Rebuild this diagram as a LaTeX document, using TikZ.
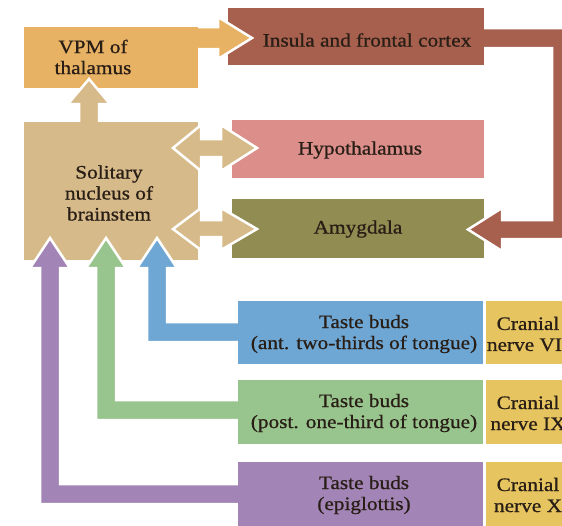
\documentclass[tikz,border=0pt]{standalone}
\usepackage{fontspec}
\setmainfont[FakeStretch=1.12,FakeBold=0.8]{Liberation Serif}
\definecolor{vpmc}{RGB}{232,178,100}
\definecolor{insc}{RGB}{168,96,78}
\definecolor{hypc}{RGB}{219,142,138}
\definecolor{amyc}{RGB}{145,140,82}
\definecolor{solc}{RGB}{214,186,138}
\definecolor{bluc}{RGB}{110,166,212}
\definecolor{grnc}{RGB}{152,196,142}
\definecolor{purc}{RGB}{162,132,182}
\definecolor{yelc}{RGB}{230,196,96}
\definecolor{txt}{RGB}{40,30,22}
\begin{document}
\begin{tikzpicture}[x=1pt,y=-1pt,
  box/.style={draw=none,inner sep=0pt,outer sep=0pt,anchor=north west},
  lbl/.style={font=\fontsize{19}{21}\selectfont,align=center,text=txt,inner sep=0pt},
  arr/.style={draw=white,line width=2.5pt,line join=miter}]
\clip (0,0) rectangle (562,525);
\fill[white] (0,0) rectangle (562,525);
% boxes
\node[box,fill=vpmc,minimum width=174pt,minimum height=61pt] (vpm) at (24,27) {};
\node[box,fill=insc,minimum width=256pt,minimum height=57pt] (ins) at (228,8) {};
\node[box,fill=hypc,minimum width=252pt,minimum height=58pt] (hyp) at (232,120) {};
\node[box,fill=amyc,minimum width=252pt,minimum height=59pt] (amy) at (232,199) {};
\node[box,fill=solc,minimum width=174pt,minimum height=138pt] (sol) at (24,122) {};
\node[box,fill=bluc,minimum width=245pt,minimum height=63pt] (tb1) at (238,301) {};
\node[box,fill=grnc,minimum width=245pt,minimum height=64pt] (tb2) at (238,380) {};
\node[box,fill=purc,minimum width=245pt,minimum height=68pt] (tb3) at (238,462) {};
\node[box,fill=yelc,minimum width=86pt,minimum height=63pt] (cn1) at (486,301) {};
\node[box,fill=yelc,minimum width=86pt,minimum height=64pt] (cn2) at (486,380) {};
\node[box,fill=yelc,minimum width=86pt,minimum height=68pt] (cn3) at (486,462) {};
% Insula -> Amygdala
\fill[insc,arr] (470,28) -- (572,28) -- (572,239) -- (502,239) -- (502,251) -- (468,229.5) -- (502,208) -- (502,220) -- (552,220) -- (552,48) -- (470,48) -- cycle;
\fill[insc] (ins.north west) rectangle (ins.south east);
% VPM -> Insula
\fill[vpmc,arr] (180,27) -- (218,27) -- (218,17) -- (252,38) -- (218,59) -- (218,49) -- (180,49) -- cycle;
\fill[vpmc] (vpm.north west) rectangle (vpm.south east);
% Solitary -> VPM
\fill[solc,arr] (79,135) -- (79,104) -- (68,104) -- (89,79) -- (110,104) -- (99,104) -- (99,135) -- cycle;
\fill[solc] (sol.north west) rectangle (sol.south east);
% taste buds -> solitary
\fill[bluc,arr] (250,322) -- (167,322) -- (167,268) -- (177,268) -- (157,238) -- (137,268) -- (147,268) -- (147,342) -- (250,342) -- cycle;
\fill[bluc] (tb1.north west) rectangle (tb1.south east);
\fill[grnc,arr] (250,400) -- (116,400) -- (116,268) -- (126,268) -- (106,238) -- (86,268) -- (96,268) -- (96,420) -- (250,420) -- cycle;
\fill[grnc] (tb2.north west) rectangle (tb2.south east);
\fill[purc,arr] (250,484) -- (60,484) -- (60,268) -- (70,268) -- (50,238) -- (30,268) -- (40,268) -- (40,504) -- (250,504) -- cycle;
\fill[purc] (tb3.north west) rectangle (tb3.south east);
% double arrows
\fill[solc,arr] (173,148) -- (201,125) -- (201,139) -- (221,139) -- (221,125) -- (257,148) -- (221,171) -- (221,157) -- (201,157) -- (201,171) -- cycle;
\fill[solc,arr] (173,229) -- (201,208) -- (201,220) -- (221,220) -- (221,208) -- (257,229) -- (221,250) -- (221,237) -- (201,237) -- (201,250) -- cycle;
% labels
\node[lbl] (tvpm) at (93,57) {VPM of\\thalamus};
\node[lbl] (tins) at (367,40) {Insula and frontal cortex};
\node[lbl] (thyp) at (360,150) {Hypothalamus};
\node[lbl] (tamy) at (358,229) {Amygdala};
\node[lbl] (tsol) at (109,193) {Solitary\\nucleus of\\brainstem};
\node[lbl] (ttb1) at (364,334) {Taste buds\\(ant. two-thirds of tongue)};
\node[lbl] (ttb2) at (364,413) {Taste buds\\(post. one-third of tongue)};
\node[lbl] (ttb3) at (364,495) {Taste buds\\(epiglottis)};
\node[lbl] (tcn1) at (528,334) {Cranial\\nerve VII};
\node[lbl] (tcn2) at (528,413) {Cranial\\nerve IX};
\node[lbl] (tcn3) at (528,495) {Cranial\\nerve X};
\end{tikzpicture}
\end{document}
